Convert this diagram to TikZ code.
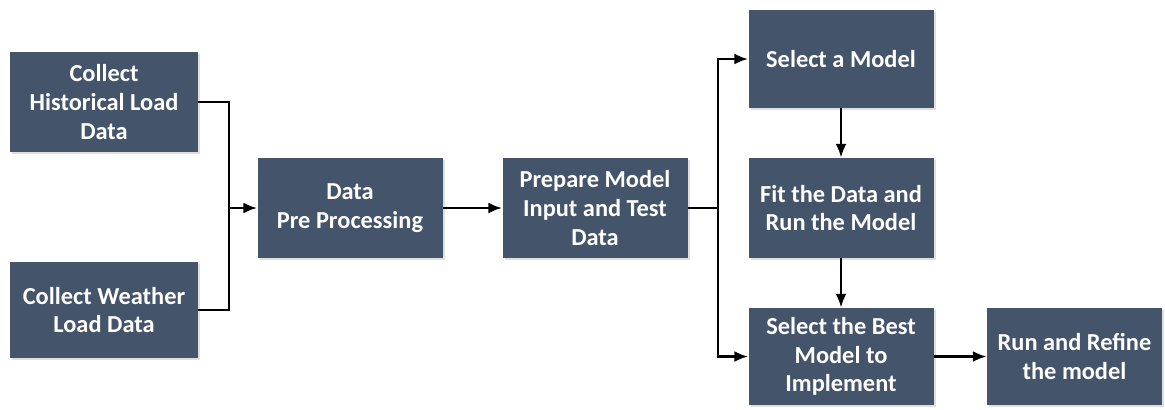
\documentclass[tikz,border=0pt]{standalone}
\usepackage{fontspec}
\setmainfont{Carlito}
\definecolor{slateblau}{HTML}{44546A}
\usetikzlibrary{arrows.meta, shadows}

\begin{document}
\begin{tikzpicture}[x=0.5pt, y=-0.5pt, every node/.style={font=\fontsize{12.2}{14.4}\selectfont\bfseries}]
        \tikzset{stepbox/.style={fill=slateblau, text=white, align=center,
                 minimum width=92.5pt, minimum height=50pt, inner sep=2pt,
                 drop shadow={opacity=0.25, shadow xshift=1pt, shadow yshift=-1pt}},
                 conn/.style={line width=1.2pt, black},
                 arr/.style={conn, -{Latex[length=2.4mm, width=1.9mm]}}}
        \useasboundingbox (0,0) rectangle (1165,409);

        \node[stepbox, minimum width=94pt]            (hist)    at (104,102) {Collect\\Historical Load\\Data};
        \node[stepbox, minimum width=94pt, minimum height=48pt] (weather) at (104,310) {Collect Weather\\Load Data};
        \node[stepbox]           (pre)     at (350,208) {Data\\Pre Processing};
        \node[stepbox]           (prep)    at (595,208) {Prepare Model\\Input and Test\\Data};
        \node[stepbox, minimum height=49pt] (sel) at (841,59) {Select a Model};
        \node[stepbox]           (fit)     at (841,208) {Fit the Data and\\Run the Model};
        \node[stepbox, minimum height=48.5pt] (best) at (841,356.5) {Select the Best\\Model to\\Implement};
        \node[stepbox, minimum width=87.5pt, minimum height=48.5pt] (run) at (1074.5,356.5) {Run and Refine\\the model};

        \coordinate (jl) at (229,208);
        \coordinate (jr) at (718,208);

        \draw[conn] (hist.east) -| (jl);
        \draw[conn] (weather.east) -| (jl);
        \draw[arr]  (jl) -- (pre.west);
        \draw[arr]  (pre.east) -- (prep.west);
        \draw[conn] (prep.east) -- (jr);
        \draw[arr]  (jr) |- (sel.west);
        \draw[arr]  (jr) |- (best.west);
        \draw[arr]  (sel.south) -- (fit.north);
        \draw[arr]  (fit.south) -- (best.north);
        \draw[arr]  (best.east) -- (run.west);
      \end{tikzpicture}
\end{document}
